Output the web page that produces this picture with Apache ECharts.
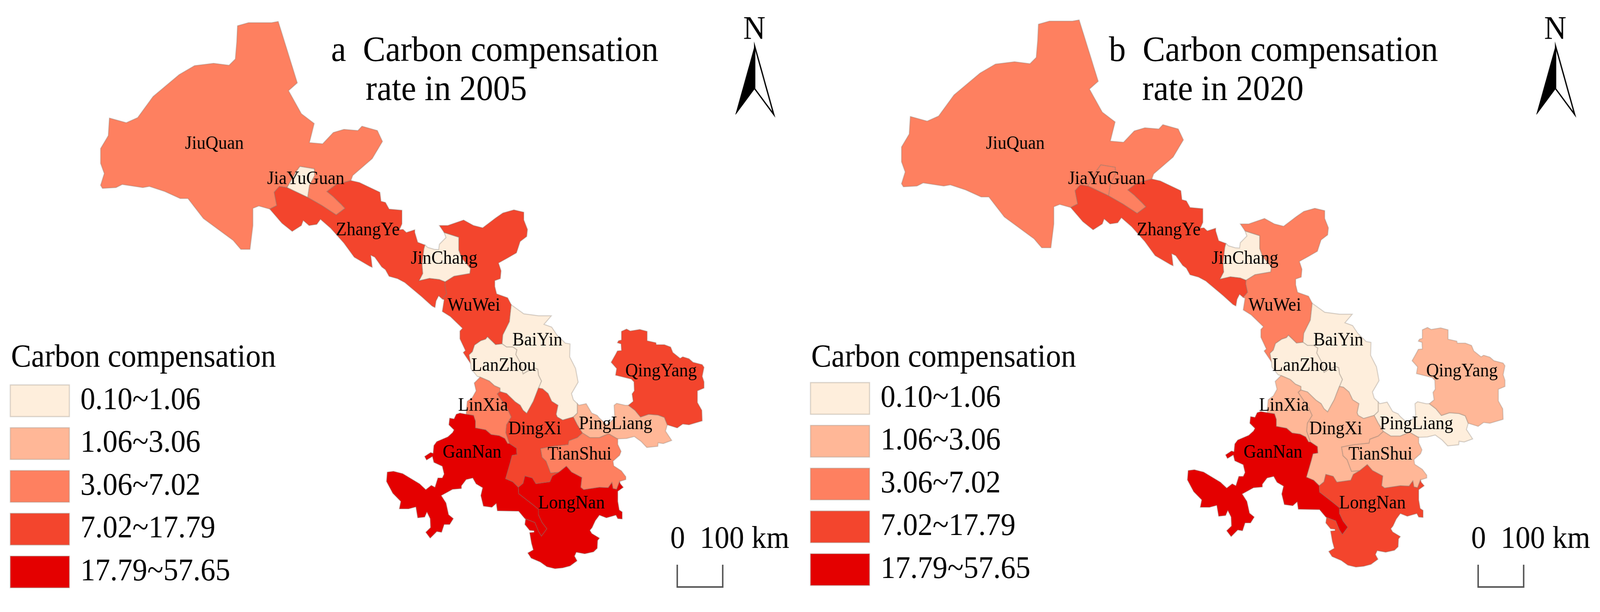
<!DOCTYPE html>
<html>
<head>
<meta charset="utf-8">
<style>html,body{margin:0;padding:0;background:#fff;overflow:hidden}#c{width:4359px;height:1566px;transform-origin:0 0}</style>
<script src="https://cdn.jsdelivr.net/npm/echarts@6/dist/echarts.min.js"></script>
</head>
<body>
<div id="c"></div>
<script>
// Region names
const categories = ['JiuQuan','JiaYuGuan','ZhangYe','JinChang','WuWei','BaiYin','LanZhou','LinXia','DingXi','PingLiang','QingYang','TianShui','GanNan','LongNan'];
// Class (1..5) of each region
const class2005 = [3,1,4,1,4,1,1,3,4,2,4,3,5,5];
const class2020 = [3,3,4,1,3,1,1,2,2,1,2,2,5,4];
// Legend
const classLabels = ['0.10~1.06','1.06~3.06','3.06~7.02','7.02~17.79','17.79~57.65'];
const classColors = ['#FEEEDC','#FFB797','#FE8060','#F3452D','#E40000'];
const legendTitle = 'Carbon compensation';
const titleLines2005 = ['a  Carbon compensation','rate in 2005'];
const titleLines2020 = ['b  Carbon compensation','rate in 2020'];
const scaleText = '0  100 km';

// Region outlines (map units)
const outlines = {
JiuQuan:[[647,66],[677,58],[740,58],[758,55],[810,212],[786,232],[821,291],[856,316],[843,365],[879,368],[908,339],[937,331],[975,334],[986,323],[1028,334],[1042,362],[1014,406],[961,449],[956,462],[916,472],[891,490],[908,503],[930,523],[940,533],[916,550],[877,526],[838,505],[843,474],[857,449],[856,432],[817,426],[807,439],[782,480],[761,477],[747,492],[754,526],[735,535],[705,527],[689,533],[689,577],[681,638],[656,638],[635,615],[554,559],[512,508],[491,508],[449,490],[407,477],[389,480],[333,472],[316,480],[279,482],[274,474],[284,444],[274,418],[274,380],[295,347],[298,302],[344,314],[375,301],[417,247],[488,191],[530,168],[582,162],[624,167],[641,151],[645,107]],
JiaYuGuan:[[817,426],[856,432],[857,449],[843,474],[838,505],[782,480],[807,439]],
ZhangYe:[[956,462],[979,467],[1035,492],[1038,515],[1050,518],[1060,535],[1095,538],[1095,573],[1088,588],[1098,587],[1107,595],[1130,588],[1130,595],[1138,620],[1158,627],[1155,637],[1150,677],[1152,700],[1142,718],[1170,712],[1197,715],[1213,721],[1212,730],[1217,752],[1205,765],[1195,757],[1188,770],[1185,787],[1177,783],[1150,760],[1103,723],[1083,713],[1060,707],[1050,690],[1040,683],[1021,658],[1010,653],[1014,684],[1007,681],[965,658],[937,622],[901,584],[873,561],[863,574],[842,577],[826,564],[821,577],[796,592],[768,571],[735,535],[754,526],[747,492],[761,477],[782,480],[838,505],[877,526],[916,550],[940,533],[930,523],[908,503],[891,490],[916,472]],
JinChang:[[1210,595],[1250,607],[1250,640],[1258,660],[1282,687],[1280,700],[1237,707],[1213,721],[1197,715],[1170,712],[1142,718],[1152,700],[1150,677],[1155,637],[1158,627],[1165,633],[1183,638],[1195,639],[1197,625],[1215,608]],
WuWei:[[1197,577],[1220,577],[1263,563],[1290,577],[1315,583],[1350,558],[1370,545],[1400,537],[1427,543],[1427,563],[1437,587],[1435,605],[1417,618],[1407,647],[1383,660],[1358,673],[1365,693],[1363,713],[1348,718],[1348,733],[1353,752],[1383,762],[1393,780],[1388,823],[1370,857],[1368,880],[1350,882],[1328,862],[1323,868],[1310,872],[1293,883],[1287,900],[1278,908],[1282,930],[1262,902],[1268,897],[1253,867],[1253,847],[1260,840],[1227,810],[1205,797],[1210,767],[1205,765],[1217,752],[1212,730],[1213,721],[1237,707],[1280,700],[1282,687],[1258,660],[1250,640],[1250,607],[1210,595]],
BaiYin:[[1393,780],[1427,803],[1467,808],[1502,808],[1482,830],[1503,837],[1517,857],[1540,878],[1553,880],[1552,913],[1568,943],[1575,978],[1557,1007],[1562,1023],[1573,1033],[1573,1057],[1562,1067],[1533,1075],[1518,1067],[1515,1060],[1520,1037],[1503,1027],[1493,1007],[1478,995],[1467,993],[1475,975],[1467,960],[1465,945],[1457,942],[1437,950],[1425,957],[1417,928],[1405,907],[1408,895],[1397,888],[1380,888],[1368,880],[1370,857],[1388,823]],
LanZhou:[[1368,880],[1380,888],[1397,888],[1408,895],[1405,907],[1417,928],[1425,957],[1437,950],[1457,942],[1465,945],[1467,960],[1475,975],[1467,993],[1453,1027],[1435,1058],[1425,1050],[1417,1037],[1403,1028],[1380,1007],[1362,1002],[1362,993],[1347,987],[1333,975],[1308,965],[1300,963],[1283,943],[1282,930],[1278,908],[1287,900],[1293,883],[1310,872],[1323,868],[1328,862],[1350,882]],
LinXia:[[1308,965],[1292,980],[1297,1000],[1287,1017],[1273,1027],[1270,1060],[1290,1063],[1295,1077],[1295,1095],[1323,1100],[1338,1112],[1360,1115],[1375,1122],[1383,1135],[1388,1135],[1378,1107],[1380,1087],[1393,1067],[1383,1047],[1355,1008],[1362,1002],[1362,993],[1347,987],[1333,975]],
DingXi:[[1362,1002],[1380,1007],[1403,1028],[1417,1037],[1425,1050],[1435,1058],[1453,1027],[1467,993],[1478,995],[1493,1007],[1503,1027],[1520,1037],[1515,1060],[1518,1067],[1533,1075],[1562,1067],[1573,1087],[1587,1108],[1573,1120],[1550,1128],[1548,1138],[1507,1142],[1473,1148],[1477,1170],[1488,1180],[1500,1210],[1523,1208],[1505,1218],[1498,1233],[1460,1238],[1450,1223],[1430,1218],[1425,1237],[1412,1247],[1397,1233],[1377,1225],[1390,1183],[1395,1165],[1408,1163],[1407,1147],[1388,1135],[1378,1107],[1380,1087],[1393,1067],[1383,1047],[1355,1008]],
PingLiang:[[1573,1033],[1577,1037],[1597,1033],[1612,1057],[1627,1063],[1633,1070],[1653,1087],[1675,1070],[1673,1037],[1680,1032],[1703,1037],[1712,1037],[1730,1050],[1745,1067],[1767,1060],[1793,1062],[1810,1068],[1818,1087],[1813,1103],[1830,1127],[1807,1135],[1793,1133],[1792,1142],[1762,1145],[1747,1130],[1728,1117],[1707,1122],[1683,1123],[1680,1122],[1658,1110],[1633,1120],[1607,1120],[1587,1108],[1573,1087],[1562,1067],[1573,1057]],
QingYang:[[1693,848],[1707,842],[1717,847],[1743,843],[1763,848],[1763,872],[1787,877],[1788,882],[1810,882],[1827,888],[1833,902],[1853,917],[1860,913],[1877,918],[1888,927],[1913,933],[1918,940],[1913,963],[1918,977],[1918,993],[1900,1000],[1900,1030],[1912,1050],[1913,1077],[1877,1087],[1860,1085],[1845,1095],[1818,1087],[1810,1068],[1793,1062],[1767,1060],[1745,1067],[1730,1050],[1712,1037],[1725,1027],[1722,1008],[1728,1000],[1727,977],[1720,970],[1677,960],[1680,943],[1665,927],[1677,907],[1682,898],[1693,897],[1692,880],[1682,877],[1685,872],[1693,870]],
TianShui:[[1587,1108],[1607,1120],[1633,1120],[1658,1110],[1680,1122],[1683,1123],[1683,1137],[1692,1155],[1688,1165],[1670,1180],[1672,1192],[1693,1205],[1705,1220],[1705,1227],[1688,1232],[1680,1252],[1670,1250],[1667,1235],[1657,1248],[1633,1247],[1590,1253],[1582,1247],[1585,1222],[1557,1208],[1543,1193],[1523,1208],[1500,1210],[1488,1180],[1477,1170],[1473,1148],[1507,1142],[1548,1138],[1550,1128],[1573,1120]],
GanNan:[[1270,1060],[1253,1057],[1243,1060],[1237,1072],[1225,1070],[1223,1087],[1237,1100],[1233,1107],[1220,1118],[1190,1130],[1182,1140],[1180,1160],[1173,1158],[1157,1168],[1162,1177],[1178,1168],[1182,1183],[1205,1193],[1210,1213],[1205,1223],[1193,1223],[1185,1247],[1175,1242],[1160,1253],[1143,1238],[1097,1212],[1072,1206],[1055,1208],[1053,1232],[1070,1262],[1092,1283],[1088,1302],[1113,1302],[1133,1297],[1138,1325],[1157,1323],[1163,1310],[1172,1327],[1173,1350],[1160,1362],[1172,1377],[1190,1360],[1203,1362],[1210,1342],[1225,1342],[1235,1327],[1222,1317],[1215,1287],[1202,1268],[1233,1252],[1257,1250],[1257,1243],[1270,1227],[1288,1223],[1297,1238],[1315,1248],[1310,1268],[1317,1295],[1340,1298],[1352,1288],[1355,1307],[1413,1308],[1430,1327],[1432,1328],[1457,1337],[1467,1360],[1475,1372],[1490,1353],[1477,1337],[1467,1317],[1467,1303],[1450,1290],[1413,1263],[1412,1247],[1397,1233],[1377,1225],[1390,1183],[1395,1165],[1408,1163],[1407,1147],[1388,1135],[1383,1135],[1375,1122],[1360,1115],[1338,1112],[1323,1100],[1295,1095],[1295,1077],[1290,1063]],
LongNan:[[1412,1247],[1425,1237],[1430,1218],[1450,1223],[1460,1238],[1498,1233],[1505,1218],[1523,1208],[1543,1193],[1557,1208],[1585,1222],[1582,1247],[1590,1253],[1633,1247],[1657,1248],[1667,1235],[1670,1250],[1680,1252],[1688,1232],[1690,1238],[1698,1247],[1683,1257],[1683,1283],[1687,1305],[1695,1310],[1695,1328],[1683,1327],[1678,1318],[1652,1325],[1633,1318],[1622,1332],[1613,1350],[1607,1357],[1612,1365],[1633,1377],[1628,1383],[1627,1403],[1617,1412],[1593,1417],[1570,1413],[1565,1423],[1572,1435],[1553,1448],[1533,1453],[1512,1455],[1490,1450],[1472,1438],[1447,1428],[1438,1415],[1453,1407],[1448,1390],[1443,1363],[1455,1362],[1455,1358],[1443,1357],[1430,1342],[1432,1328],[1457,1337],[1467,1360],[1475,1372],[1490,1353],[1477,1337],[1467,1317],[1467,1303],[1450,1290],[1413,1263]]
};
// Where each region's name sits (map units)
const namePoints = {JiuQuan:[584,368],JiaYuGuan:[833,458],ZhangYe:[1002,589],JinChang:[1210,662],WuWei:[1291,782],BaiYin:[1464,871],LanZhou:[1372,936],LinXia:[1316,1038],DingXi:[1457,1098],PingLiang:[1677,1085],QingYang:[1801,950],TianShui:[1579,1163],GanNan:[1286,1158],LongNan:[1557,1288]};

const SERIF = '"Liberation Serif","Times New Roman",serif';
const geoJson = {type:'FeatureCollection',features:categories.map(n=>({
  type:'Feature',
  properties:{name:n,cp:namePoints[n]},
  geometry:{type:'Polygon',coordinates:[outlines[n].concat([outlines[n][0]])]}
}))};
echarts.registerMap('gansuA',geoJson);
echarts.registerMap('gansuB',geoJson);

let minX=1e9,minY=1e9,maxX=-1e9,maxY=-1e9;
categories.forEach(n=>outlines[n].forEach(p=>{minX=Math.min(minX,p[0]);maxX=Math.max(maxX,p[0]);minY=Math.min(minY,p[1]);maxY=Math.max(maxY,p[1]);}));

const identity={project:p=>[p[0],p[1]],unproject:p=>[p[0],p[1]]};
function mapSeries(mapName,classes,dx,dy,labelDy){
  return {
    type:'map',map:mapName,projection:identity,roam:false,silent:true,
    left:minX+dx,top:minY+dy,width:maxX-minX,height:maxY-minY,
    label:{show:true,formatter:'{b}',fontFamily:SERIF,fontSize:48,color:'#000',offset:[0,labelDy]},
    itemStyle:{borderColor:'rgba(125,115,105,0.32)',borderWidth:2.5,areaColor:'#fff'},
    emphasis:{disabled:true},select:{disabled:true},
    data:categories.map((n,i)=>({name:n,value:classes[i]}))
  };
}
function legend(seriesIndex,left,top){
  return {
    type:'piecewise',seriesIndex,left,top,orient:'vertical',align:'left',inverse:true,
    itemWidth:161,itemHeight:81,itemGap:28.5,textGap:30,itemSymbol:'rect',selectedMode:false,
    textStyle:{fontFamily:SERIF,fontSize:81,color:'#000'},
    padding:0,showLabel:true,
    pieces:classLabels.map((l,i)=>({value:i+1,label:l,color:classColors[i]}))
  };
}
function txt(text,x,baseline,size,align){
  return {type:'text',silent:true,z:10,style:{text,x,y:baseline-0.3375*size,fontFamily:SERIF,fontSize:size,fill:'#000',align:align||'left',verticalAlign:'middle'}};
}
function decorations(dx,lines,titleX,legendDx,swatchTop){
  const g=[];
  g.push(txt(lines[0],titleX[0],163,92));
  g.push(txt(lines[1],titleX[1],263,92));
  g.push(txt('N',2055+dx,106,84,'center'));
  g.push({type:'polygon',silent:true,shape:{points:[[2056,118],[2004,293],[2056,227]].map(p=>[p[0]+dx,p[1]])},style:{fill:'#000',stroke:'#000',lineWidth:1}});
  g.push({type:'polygon',silent:true,shape:{points:[[2056,118],[2108,293],[2056,227]].map(p=>[p[0]+dx,p[1]])},style:{fill:'#fff',stroke:'#000',lineWidth:3.5}});
  g.push(txt(scaleText,1826+dx,1408,80.5));
  g.push({type:'polyline',silent:true,shape:{points:[[1845,1445],[1845,1502],[1969,1502],[1969,1445]].map(p=>[p[0]+dx,p[1]])},style:{fill:'none',stroke:'#555',lineWidth:4}});
  g.push(txt(legendTitle,30+legendDx,944,82.5));
  classLabels.forEach((l,i)=>g.push({type:'rect',silent:true,z:10,shape:{x:28+legendDx,y:swatchTop+i*109.5,width:161,height:81},style:{fill:'none',stroke:'rgba(150,140,130,0.35)',lineWidth:3}}));
  return g;
}

// The browser window may be narrower than the reference: fit the whole 4359×1566 drawing into it.
document.getElementById('c').style.transform='scale('+(window.innerWidth/4359)+','+(window.innerHeight/1566)+')';

const chart=echarts.init(document.getElementById('c'),null,{renderer:'canvas',width:4359,height:1566});
chart.setOption({
  backgroundColor:'#fff',animation:false,
  visualMap:[legend(0,28,985),legend(1,2208,979)],
  series:[mapSeries('gansuA',class2005,0,0,0),mapSeries('gansuB',class2020,2182,-4,4)],
  graphic:decorations(0,titleLines2005,[902,996],0,985).concat(decorations(2182,titleLines2020,[3021,3112],2180,979))
});
</script>
</body>
</html>
